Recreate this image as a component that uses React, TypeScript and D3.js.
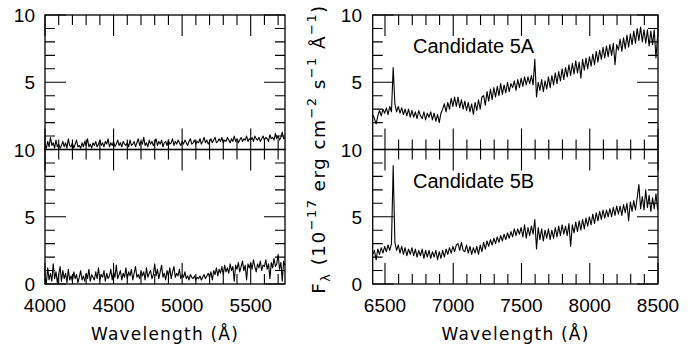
import * as d3 from "d3";

// wavelength grids (start, step) and flux values
const blueStart = 4000;
const blueStep = 10;
const redStart = 6410;
const redStep = 12.5;

const fluxBlueTop = [
  0.3,0.1,0.6,0.2,0.9,0.3,0.5,0.1,0.7,0.2,
  0.4,0.1,0.3,0.6,0.2,0.5,0.1,0.8,0.3,0.2,
  0.5,0.1,0.4,0.7,0.2,0.3,0.1,0.5,0.2,0.6,
  0.3,0.8,0.2,0.4,0.1,0.5,0.3,0.6,0.2,0.4,
  0.7,0.3,0.5,0.2,0.6,0.4,0.8,0.2,0.5,0.3,
  0.6,0.2,0.4,0.7,0.3,0.5,0.2,0.6,0.4,0.3,
  0.5,0.2,0.7,0.3,0.4,0.6,0.2,0.5,0.8,0.3,
  0.6,0.4,0.9,0.3,0.5,0.2,0.7,0.4,0.6,0.3,
  0.5,0.8,0.3,0.6,0.4,0.7,0.2,0.5,0.6,0.3,
  0.7,0.4,0.5,0.8,0.3,0.6,0.4,0.7,0.5,0.3,
  0.6,0.4,0.7,0.5,0.3,0.6,0.8,0.4,0.5,0.7,
  0.4,0.6,0.5,0.8,0.4,0.6,0.9,0.5,0.7,0.4,
  0.6,0.8,0.5,0.7,0.9,0.5,0.6,0.8,0.6,0.9,
  0.5,0.7,0.6,0.9,0.7,0.5,0.8,0.6,1.0,0.6,
  0.8,0.5,0.7,0.9,0.6,0.8,0.7,1.0,0.6,0.8,
  0.7,0.9,0.6,1.0,0.8,0.7,0.9,0.6,0.8,1.0,
  0.7,0.9,0.8,0.6,1.1,0.8,0.9,0.7,1.2,0.8,
  1.0,0.7,0.9,1.3,0.8,0.9,
];

const fluxBlueBottom = [
  0.4,0.1,1.2,0.3,0.8,0.2,1.5,0.4,0.9,0.1,
  0.7,1.3,0.2,1.0,0.4,0.8,0.1,1.1,0.3,0.6,
  0.2,0.9,0.4,0.7,0.1,0.5,1.0,0.3,0.6,0.2,
  0.8,0.4,1.1,0.2,0.7,0.5,0.3,0.9,0.4,1.2,
  0.3,0.7,0.5,1.0,0.2,0.8,0.4,0.6,1.1,0.3,
  0.9,0.5,1.4,0.4,0.7,1.0,0.3,0.8,0.5,1.2,
  0.4,0.9,0.6,1.1,0.3,0.8,1.3,0.5,0.7,0.4,
  1.0,0.6,0.9,0.3,1.2,0.5,0.8,1.0,0.4,0.7,
  1.5,0.6,1.1,0.4,0.9,1.4,0.5,0.8,0.3,1.0,
  0.6,1.2,0.4,0.9,1.3,0.5,0.8,0.6,1.1,0.4,
  0.7,0.5,0.9,0.4,0.6,0.3,0.7,0.5,0.4,0.6,
  0.3,0.5,0.4,0.6,0.3,0.5,0.7,0.4,0.6,0.8,
  0.5,0.9,0.3,1.0,0.7,1.2,0.6,1.1,0.8,1.3,
  0.7,1.4,0.9,1.2,0.8,1.5,1.0,1.3,0.2,1.4,
  1.1,1.6,0.9,1.3,1.7,1.0,1.4,0.3,1.5,1.2,
  1.6,1.1,1.8,1.3,0.9,1.5,1.2,1.7,1.0,1.4,
  1.3,1.8,1.1,1.5,0.4,1.6,1.2,1.9,1.3,1.5,
  2.2,1.1,1.6,0.2,1.7,1.4,
];

const flux5A = [
  2.6,2.3,1.9,2.5,2.9,2.5,3.0,2.7,3.1,2.6,
  3.2,2.8,6.1,3.4,2.8,3.2,2.7,3.1,2.6,3.0,
  2.5,3.0,2.4,2.9,2.4,2.8,2.3,2.9,2.5,2.3,
  2.8,2.2,2.7,2.4,2.8,2.2,2.7,2.1,2.6,2.0,
  2.7,3.0,3.4,2.8,3.5,3.0,3.8,3.2,3.9,3.2,
  3.9,3.1,3.7,3.0,3.6,2.9,3.5,2.8,3.4,2.6,
  3.5,2.9,3.7,3.0,3.9,4.0,3.3,4.3,3.6,4.5,
  3.7,4.6,3.9,4.7,4.0,4.9,4.1,4.8,4.2,5.0,
  4.3,4.9,4.6,5.1,4.4,5.2,4.6,5.3,4.7,5.4,
  4.8,5.4,4.9,5.5,4.8,6.7,3.9,5.0,4.4,5.2,
  4.3,5.1,4.5,5.4,4.6,5.5,4.8,5.7,4.9,5.8,
  5.1,6.0,5.2,6.1,5.4,6.3,5.5,6.4,5.6,6.6,
  5.7,6.5,5.3,6.7,5.9,6.8,6.0,6.9,6.2,7.1,
  6.3,7.3,6.5,7.4,6.7,7.6,6.8,7.7,6.9,7.8,
  7.0,7.9,6.3,7.8,7.4,8.2,7.3,8.3,7.5,8.5,
  7.6,8.6,7.8,8.8,7.9,9.0,8.1,9.1,8.0,8.9,
  7.9,8.9,7.7,8.8,7.8,8.9,6.8,8.5,
];

const flux5B = [
  2.2,2.5,1.8,2.6,2.2,2.7,2.3,2.8,2.4,2.9,
  2.5,3.0,8.8,3.1,2.5,2.9,2.3,2.8,2.2,2.7,
  2.1,2.6,2.2,2.7,2.1,2.6,2.0,2.5,2.1,2.6,
  1.9,2.5,2.0,2.5,1.9,2.4,2.0,2.5,1.8,2.4,
  1.9,2.5,2.0,2.6,2.2,2.7,2.3,2.8,2.4,2.9,
  3.0,2.5,3.1,2.5,2.4,2.9,2.3,2.8,2.2,2.7,
  2.3,2.8,2.2,2.9,2.4,3.1,2.6,3.2,2.8,3.3,
  2.9,3.4,3.0,3.5,3.1,3.6,3.2,3.7,3.3,3.8,
  3.4,3.9,3.5,4.1,3.6,4.1,3.7,4.2,3.5,4.4,
  3.4,4.2,3.6,4.3,3.7,4.8,2.6,4.2,3.3,4.1,
  3.2,4.0,3.4,4.1,3.3,4.0,3.4,4.2,3.5,4.3,
  3.6,4.4,3.7,4.3,3.6,4.5,2.8,4.4,3.8,4.6,
  3.9,4.7,4.0,4.8,4.1,4.9,4.3,5.0,4.4,5.2,
  4.5,5.3,4.7,5.4,4.8,5.5,4.9,5.5,5.0,5.6,
  5.0,5.7,5.1,5.8,5.2,5.8,5.1,5.9,5.3,6.0,
  4.7,6.1,5.4,6.2,5.5,6.4,7.4,5.6,6.5,5.5,
  7.0,5.7,6.6,5.4,6.4,5.6,6.7,5.5,
];

const blueTicks = [4000, 4500, 5000, 5500];
const redTicks = [6500, 7000, 7500, 8000, 8500];
const fluxTicks = [0, 5, 10];

const TOP = 15;
const MID = 149.5;
const BOT = 284;
const tickFont = "'Liberation Sans', Arial, Helvetica, sans-serif";
const labelFont = "'DejaVu Sans', Verdana, sans-serif";

type PanelProps = {
  x: d3.ScaleLinear<number, number>;
  y0: number;
  y1: number;
  wave0: number;
  step: number;
  flux: number[];
};

function Panel({ x, y0, y1, wave0, step, flux }: PanelProps) {
  const y = d3.scaleLinear().domain([0, 10]).range([y1, y0]);
  const [xa, xb] = x.range();
  const [wa, wb] = x.domain();
  const spectrum = d3
    .line<number>()
    .x((_, i) => x(wave0 + i * step))
    .y((d) => y(d));

  // inward ticks on all four sides: minor every 100 Å / 1 unit, major every 500 Å / 5 units
  const big = 21;
  const small = 10;
  let ticks = "";
  d3.range(Math.ceil(wa / 100) * 100, wb + 1, 100).forEach((w) => {
    const len = w % 500 === 0 ? big : small;
    const px = x(w);
    ticks += `M${px},${y0}v${len}M${px},${y1}v${-len}`;
  });
  d3.range(0, 11, 1).forEach((v) => {
    const len = v % 5 === 0 ? big : small;
    const py = y(v);
    ticks += `M${xa},${py}h${len}M${xb},${py}h${-len}`;
  });

  return (
    <g>
      <path d={spectrum(flux) ?? ""} fill="none" stroke="#000" strokeWidth={1.1} strokeLinejoin="round" />
      <path d={ticks} fill="none" stroke="#000" strokeWidth={1.1} />
      <rect x={xa} y={y0} width={xb - xa} height={y1 - y0} fill="none" stroke="#000" strokeWidth={1.3} />
    </g>
  );
}

function YLabels({ right, yTop, yBot, skipZero }: { right: number; yTop: number; yBot: number; skipZero: boolean }) {
  const y = d3.scaleLinear().domain([0, 10]).range([yBot, yTop]);
  return (
    <g>
      {fluxTicks
        .filter((t) => !(skipZero && t === 0))
        .map((t) => (
          <text key={t} x={right} y={y(t) + 7} textAnchor="end" fontSize={19} fontFamily={tickFont}>
            {t}
          </text>
        ))}
    </g>
  );
}

export default function App() {
  const xBlue = d3.scaleLinear().domain([4000, 5750]).range([45, 285]);
  const xRed = d3.scaleLinear().domain([6410, 8500]).range([372.7, 658]);

  return (
    <svg width={698} height={352} style={{ position: "absolute", left: 0, top: 0, background: "#fff" }}>
      <Panel x={xBlue} y0={TOP} y1={MID} wave0={blueStart} step={blueStep} flux={fluxBlueTop} />
      <Panel x={xBlue} y0={MID} y1={BOT} wave0={blueStart} step={blueStep} flux={fluxBlueBottom} />
      <Panel x={xRed} y0={TOP} y1={MID} wave0={redStart} step={redStep} flux={flux5A} />
      <Panel x={xRed} y0={MID} y1={BOT} wave0={redStart} step={redStep} flux={flux5B} />

      <YLabels right={35} yTop={TOP} yBot={MID} skipZero={true} />
      <YLabels right={35} yTop={MID} yBot={BOT} skipZero={false} />
      <YLabels right={362} yTop={TOP} yBot={MID} skipZero={true} />
      <YLabels right={362} yTop={MID} yBot={BOT} skipZero={false} />

      {blueTicks.map((t) => (
        <text key={t} x={xBlue(t)} y={311.5} textAnchor="middle" fontSize={19} fontFamily={tickFont}>
          {t}
        </text>
      ))}
      {redTicks.map((t) => (
        <text key={t} x={xRed(t)} y={311.5} textAnchor="middle" fontSize={19} fontFamily={tickFont}>
          {t}
        </text>
      ))}

      <text x={165} y={340} textAnchor="middle" fontSize={17} letterSpacing={1.2} fontFamily={labelFont}>
        Wavelength  (Å)
      </text>
      <text x={515.5} y={340} textAnchor="middle" fontSize={17} letterSpacing={1.2} fontFamily={labelFont}>
        Wavelength  (Å)
      </text>

      <text x={413} y={53} fontSize={20} fontFamily={tickFont}>Candidate 5A</text>
      <text x={413} y={188} fontSize={20} fontFamily={tickFont}>Candidate 5B</text>

      <text
        transform="translate(325,149) rotate(-90)"
        textAnchor="middle"
        fontSize={18.5}
        letterSpacing={1.4}
        fontFamily={labelFont}
      >
        F
        <tspan fontSize={13} dy={5}>λ</tspan>
        <tspan dy={-5}> (10</tspan>
        <tspan fontSize={13} dy={-9}>−17</tspan>
        <tspan dy={9}> erg cm</tspan>
        <tspan fontSize={13} dy={-9}>−2</tspan>
        <tspan dy={9}> s</tspan>
        <tspan fontSize={13} dy={-9}>−1</tspan>
        <tspan dy={9}> Å</tspan>
        <tspan fontSize={13} dy={-9}>−1</tspan>
        <tspan dy={9}>)</tspan>
      </text>
    </svg>
  );
}
